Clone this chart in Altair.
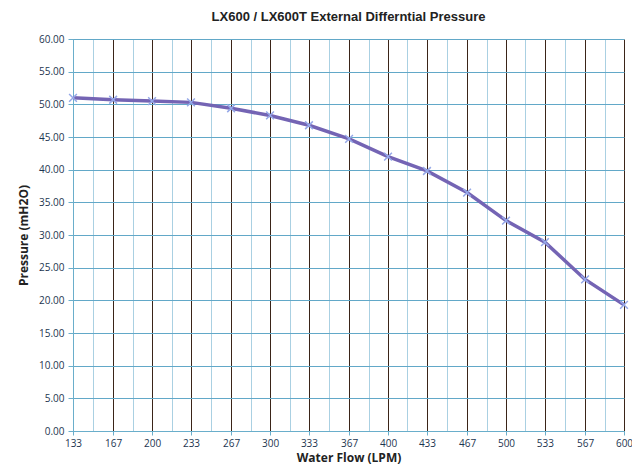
import altair as alt
import pandas as pd

flow = [133, 167, 200, 233, 267, 300, 333, 367, 400, 433, 467, 500, 533, 567, 600]
pressure = [51.0, 50.7, 50.5, 50.3, 49.4, 48.3, 46.8, 44.7, 42.0, 39.8, 36.5, 32.2, 28.9, 23.2, 19.3]
y_ticks = [0, 5, 10, 15, 20, 25, 30, 35, 40, 45, 50, 55, 60]
minor_x = [(a + b) / 2 for a, b in zip(flow[:-1], flow[1:])]

df = pd.DataFrame({"flow": flow, "pressure": pressure})

x_scale = alt.Scale(domain=[133, 600], nice=False, zero=False)
y_scale = alt.Scale(domain=[0, 60], nice=False)

label_font = "Open Sans"

minor = alt.Chart(df).mark_line(opacity=0).encode(
    x=alt.X("flow:Q", scale=x_scale,
            axis=alt.Axis(orient="top", values=minor_x, grid=True, gridColor="#aad0e2",
                          gridWidth=1, gridOpacity=1, labels=False, ticks=False,
                          domain=False, title=None)),
    y=alt.Y("pressure:Q", scale=y_scale, axis=None),
)

line = alt.Chart(df).mark_line(color="#7464b4", strokeWidth=3.5).encode(
    x=alt.X("flow:Q", scale=x_scale,
            axis=alt.Axis(values=flow, grid=True, gridColor="#3a2418", gridWidth=1,
                          gridOpacity=1, format="d", title="Water Flow (LPM)",
                          titleFont=label_font, titleFontSize=12, titleFontWeight="bold",
                          titleColor="#222222", titlePadding=4,
                          labelFont=label_font, labelFontSize=10, labelColor="#1c3550",
                          labelPadding=3, tickSize=4, tickColor="#6aaecb",
                          domainColor="#6aaecb", labelFlush=False, labelOverlap=False)),
    y=alt.Y("pressure:Q", scale=y_scale,
            axis=alt.Axis(values=y_ticks, format=".2f", grid=True, gridColor="#62a8c8",
                          gridWidth=1, gridOpacity=1, title="Pressure (mH2O)",
                          titleFont=label_font, titleFontSize=12, titleFontWeight="bold",
                          titleColor="#222222", titlePadding=8,
                          labelFont=label_font, labelFontSize=10, labelColor="#1c3550",
                          labelPadding=4, tickSize=5, tickColor="#6aaecb",
                          domainColor="#6aaecb", labelOverlap=False)),
)

points = alt.Chart(df).mark_point(
    shape="M-1,-1L1,1M-1,1L1,-1", size=60, color="#95a8e8", strokeWidth=1.5, filled=False,
    opacity=1
).encode(
    x=alt.X("flow:Q", scale=x_scale, axis=None),
    y=alt.Y("pressure:Q", scale=y_scale, axis=None),
)

chart = alt.layer(minor, line, points).resolve_axis(
    x="independent", y="independent"
).resolve_scale(x="shared", y="shared").properties(
    width=551,
    height=392,
    autosize="none",
    padding={"left": 65, "top": 31, "right": 8, "bottom": 36},
    title=alt.TitleParams(
        text="LX600 / LX600T External Differntial Pressure",
        font="Liberation Sans", fontSize=13, fontWeight="bold", color="#222222",
        anchor="middle", offset=10,
    ),
).configure_view(stroke=None)

chart.save("out.html", embed_options={"renderer": "svg", "actions": False})
